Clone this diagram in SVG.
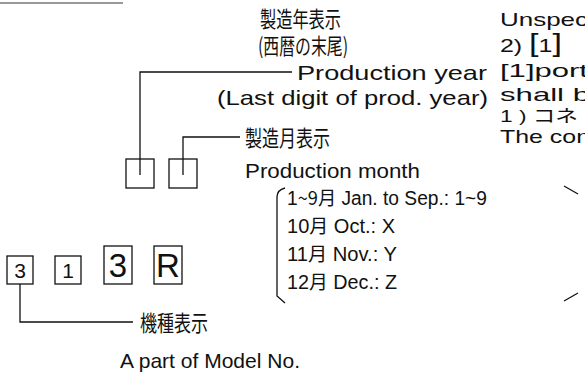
<svg xmlns="http://www.w3.org/2000/svg" width="585" height="385" viewBox="0 0 585 385">
<style>
.t{font-family:"Liberation Sans","Noto Sans CJK JP",sans-serif;font-size:21px;fill:#111}
.r{font-family:"Liberation Sans","Noto Sans CJK JP",sans-serif;font-size:19px;fill:#111}
.j{font-family:"Noto Sans CJK JP","Liberation Sans",sans-serif;font-size:22px;fill:#111}
.ln{fill:none;stroke:#111;stroke-width:1.3}
.bx{fill:#fff;stroke:#111;stroke-width:1.3}
.d{font-family:"Liberation Sans",sans-serif;fill:#111;text-anchor:middle}
</style>
<rect width="585" height="385" fill="#fff"/>
<line x1="0" y1="3" x2="123" y2="3" stroke="#777" stroke-width="1.5"/>
<g id="connectors">
<path class="ln" d="M292 72 H140 V175"/>
<path class="ln" d="M240 137 H183 V175"/>
<path class="ln" d="M20 284 V322 H133"/>
<path class="ln" d="M285 188 Q277 190 277 197 V296 L285 303"/>
<path class="ln" d="M564 186 L578 194"/>
<path class="ln" d="M564 301 L578 293"/>
</g>
<g id="year-label">
<text class="j" x="260" y="27" textLength="81" lengthAdjust="spacingAndGlyphs">製造年表示</text>
<text class="j" x="258" y="54" textLength="90" lengthAdjust="spacingAndGlyphs">(西暦の末尾)</text>
<text class="t" x="297" y="80" textLength="190" lengthAdjust="spacingAndGlyphs">Production year</text>
<text class="t" x="217" y="105" textLength="271" lengthAdjust="spacingAndGlyphs">(Last digit of prod. year)</text>
</g>
<g id="month-label">
<text class="j" x="245" y="146" textLength="85" lengthAdjust="spacingAndGlyphs">製造月表示</text>
<text class="t" x="245" y="178" textLength="175" lengthAdjust="spacingAndGlyphs">Production month</text>
</g>
<g id="box-year"><rect class="bx" x="126" y="159" width="28" height="29"/></g>
<g id="box-month"><rect class="bx" x="169" y="159" width="28" height="29"/></g>
<path class="ln" d="M140 159 V175 M183 159 V175"/>
<g id="month-codes">
<text class="t" x="287" y="205" style="font-size:20px" textLength="200" lengthAdjust="spacingAndGlyphs">1<tspan class="j" style="font-size:19px">~9月</tspan> Jan. to Sep.: 1~9</text>
<text class="t" x="287" y="233" style="font-size:20px" textLength="108" lengthAdjust="spacingAndGlyphs">10<tspan class="j" style="font-size:19px">月</tspan> Oct.: X</text>
<text class="t" x="287" y="261" style="font-size:20px" textLength="110" lengthAdjust="spacingAndGlyphs">11<tspan class="j" style="font-size:19px">月</tspan> Nov.: Y</text>
<text class="t" x="287" y="289" style="font-size:20px" textLength="110" lengthAdjust="spacingAndGlyphs">12<tspan class="j" style="font-size:19px">月</tspan> Dec.: Z</text>
</g>
<g id="box-3"><rect class="bx" x="7" y="256" width="26" height="28"/><text class="d" x="20" y="278" style="font-size:21px">3</text></g>
<g id="box-1"><rect class="bx" x="55" y="256" width="26" height="28"/><text class="d" x="68" y="278" style="font-size:21px">1</text></g>
<g id="box-3b"><rect class="bx" x="104" y="246" width="28" height="38"/><text class="d" x="118" y="277" style="font-size:33px">3</text></g>
<g id="box-R"><rect class="bx" x="154" y="246" width="28" height="38"/><text class="d" x="168" y="277" style="font-size:33px">R</text></g>
<g id="model-label">
<text class="j" x="140" y="331" textLength="68" lengthAdjust="spacingAndGlyphs">機種表示</text>
<text class="t" x="120" y="368" textLength="180" lengthAdjust="spacingAndGlyphs">A part of Model No.</text>
</g>
<g id="right-notes">
<text class="r" x="500" y="26" textLength="88" lengthAdjust="spacingAndGlyphs">Unspec</text>
<text class="r" x="500" y="52" textLength="62" lengthAdjust="spacingAndGlyphs">2) <tspan style="font-size:26px">[</tspan>1<tspan style="font-size:26px">]</tspan></text>
<text class="r" x="500" y="77" textLength="88" lengthAdjust="spacingAndGlyphs">[1]port</text>
<text class="r" x="500" y="101" textLength="90" lengthAdjust="spacingAndGlyphs">shall b</text>
<text class="r" x="500" y="122" style="font-size:17px" textLength="78" lengthAdjust="spacingAndGlyphs">1 ) <tspan class="j" style="font-size:17px">コネ</tspan></text>
<text class="r" x="500" y="143" textLength="90" lengthAdjust="spacingAndGlyphs">The con</text>
</g>
</svg>
